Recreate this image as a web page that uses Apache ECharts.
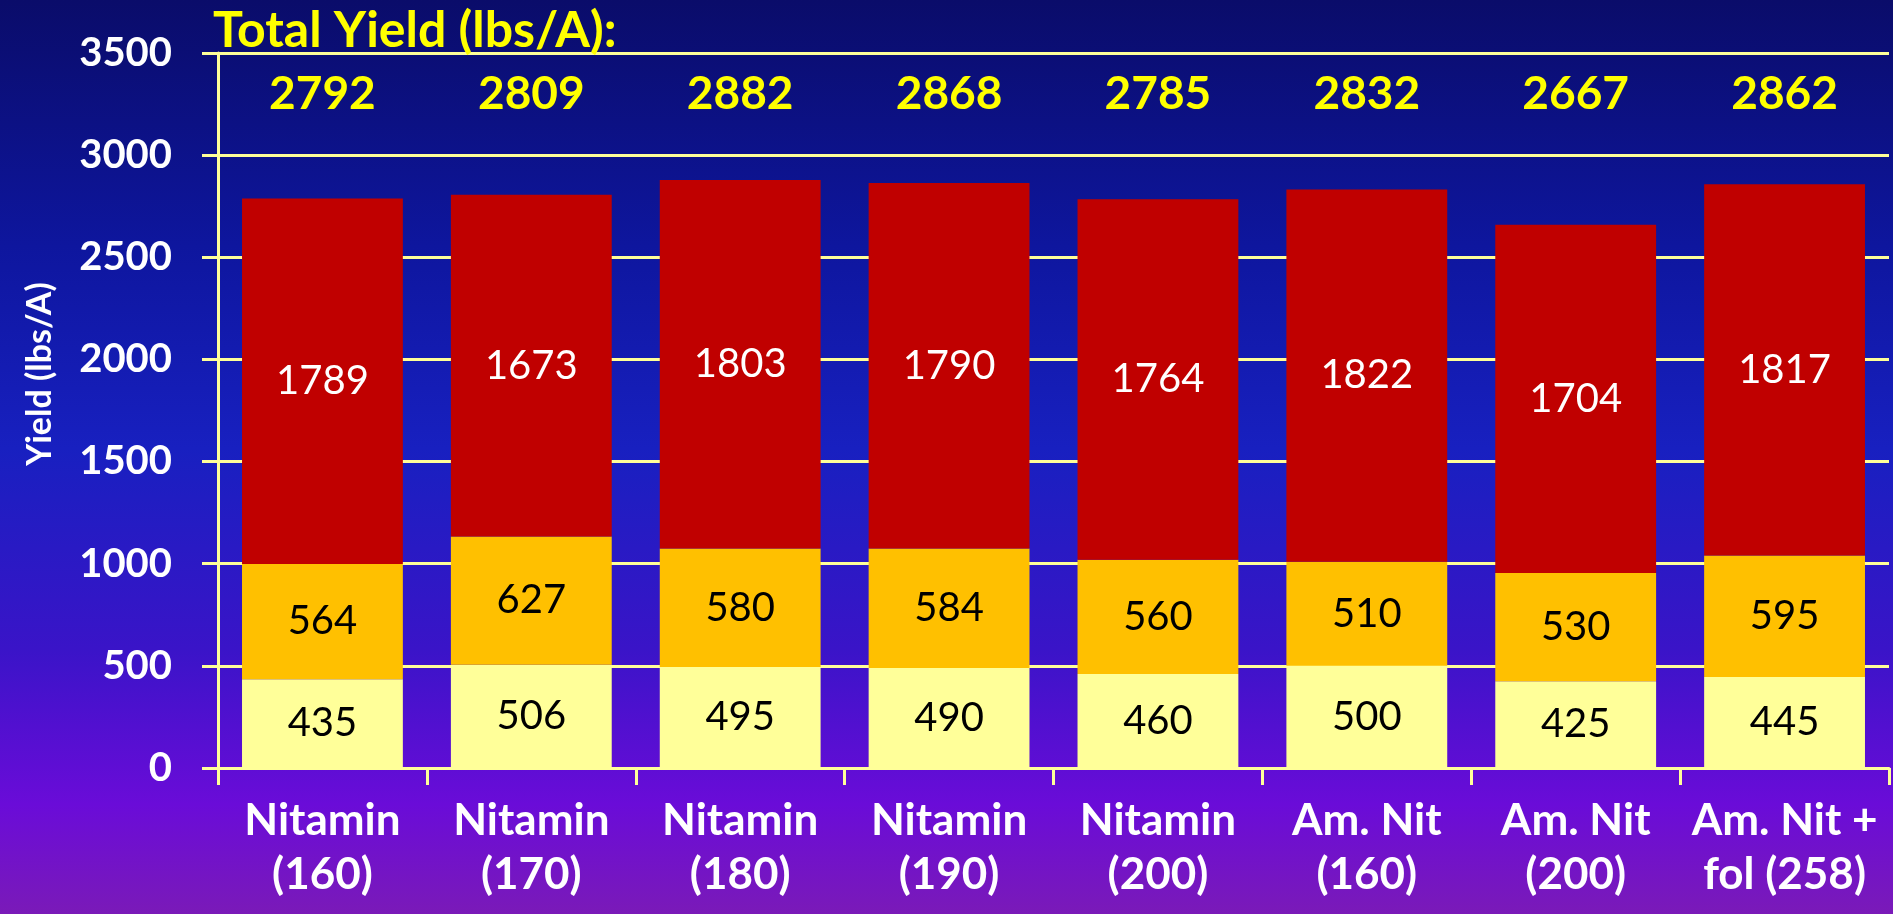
<!DOCTYPE html>
<html>
<head>
<meta charset="utf-8">
<script src="https://cdn.jsdelivr.net/npm/echarts@6/dist/echarts.min.js"></script>
<style>
  html, body { margin: 0; padding: 0; }
  #main {
    width: 1893px;
    height: 914px;
    background: linear-gradient(to bottom, #0a0c6a 0%, #0e169e 27%, #1820c0 49%, #3a14c8 71%, #6a0cd8 88%, #7a1ab8 100%);
  }
</style>
</head>
<body>
<div id="main"></div>
<script>
// data
const categories = ['Nitamin\n(160)', 'Nitamin\n(170)', 'Nitamin\n(180)', 'Nitamin\n(190)',
  'Nitamin\n(200)', 'Am. Nit\n(160)', 'Am. Nit\n(200)', 'Am. Nit +\nfol (258)'];
const lowerPart = [435, 506, 495, 490, 460, 500, 425, 445];
const middlePart = [564, 627, 580, 584, 560, 510, 530, 595];
const upperPart = [1789, 1673, 1803, 1790, 1764, 1822, 1704, 1817];
const totals = [2792, 2809, 2882, 2868, 2785, 2832, 2667, 2862];
const totalRowValue = 3300; // where the totals row sits on the y axis

const gridColor = '#FFFF99';
const font = 'Lato';

const myChart = echarts.init(document.getElementById('main'));

const segLabel = (color) => ({
  show: true,
  position: 'inside',
  color: color,
  fontFamily: font,
  fontSize: 40,
});

const option = {
  backgroundColor: 'transparent',
  animation: false,
  title: {
    text: 'Total Yield (lbs/A):',
    left: 208,
    top: 1,
    textStyle: { color: '#FFFF00', fontFamily: font, fontWeight: 'bold', fontSize: 50 },
  },
  graphic: [{
    type: 'text',
    x: 40,
    y: 374,
    rotation: Math.PI / 2,
    style: {
      text: 'Yield (lbs/A)',
      fill: '#fff',
      fontFamily: font,
      fontWeight: 'bold',
      fontSize: 34,
      align: 'center',
      verticalAlign: 'middle',
    },
  }],
  grid: { left: 218, right: 4, top: 53, bottom: 146 },
  xAxis: {
    type: 'category',
    data: categories,
    axisLine: { lineStyle: { color: gridColor, width: 3 } },
    axisTick: { show: true, length: 17, lineStyle: { color: gridColor, width: 3 } },
    axisLabel: {
      color: '#fff', fontFamily: font, fontWeight: 'bold', fontSize: 44,
      lineHeight: 54, margin: 26, interval: 0,
    },
  },
  yAxis: {
    type: 'value',
    min: 0,
    max: 3500,
    interval: 500,
    axisLine: { show: true, lineStyle: { color: gridColor, width: 3 } },
    axisTick: { show: true, length: 16, lineStyle: { color: gridColor, width: 3 } },
    splitLine: { lineStyle: { color: gridColor, width: 3 } },
    axisLabel: {
      color: '#fff', fontFamily: font, fontWeight: 'bold', fontSize: 40, margin: 46,
      formatter: (v) => String(v),
    },
  },
  series: [
    {
      type: 'bar', stack: 'yield', data: lowerPart, barWidth: '77%',
      itemStyle: { color: '#FFFF99' }, label: segLabel('#000'),
    },
    {
      type: 'bar', stack: 'yield', data: middlePart,
      itemStyle: { color: '#FFC000' }, label: segLabel('#000'),
    },
    {
      type: 'bar', stack: 'yield', data: upperPart,
      itemStyle: { color: '#C00000' }, label: segLabel('#fff'),
    },
    {
      type: 'scatter',
      data: totals.map(() => totalRowValue),
      symbolSize: 1,
      itemStyle: { color: 'transparent', opacity: 1 },
      label: {
        show: true,
        position: 'inside',
        formatter: (p) => totals[p.dataIndex],
        color: '#FFFF00', fontFamily: font, fontWeight: 'bold', fontSize: 46,
      },
    },
  ],
};

myChart.setOption(option);
</script>
</body>
</html>
